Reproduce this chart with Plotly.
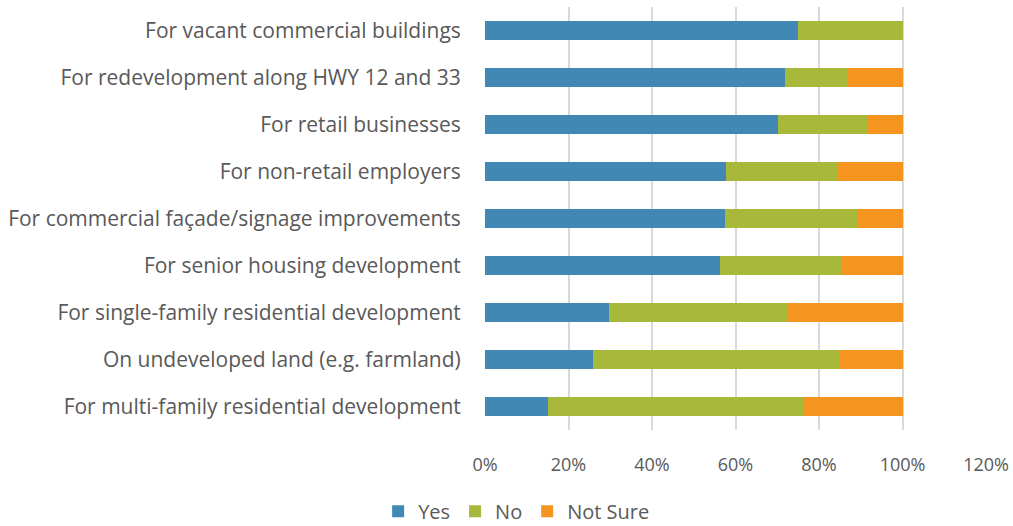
import plotly.graph_objects as go

categories = [
    "For vacant commercial buildings",
    "For redevelopment along HWY 12 and 33",
    "For retail businesses",
    "For non-retail employers",
    "For commercial façade/signage improvements",
    "For senior housing development",
    "For single-family residential development",
    "On undeveloped land (e.g. farmland)",
    "For multi-family residential development",
]
yes_vals = [0.75, 0.718, 0.701, 0.577, 0.574, 0.562, 0.298, 0.259, 0.151]
no_vals = [0.25, 0.152, 0.214, 0.268, 0.320, 0.292, 0.425, 0.589, 0.611]
notsure_vals = [0.0, 0.130, 0.085, 0.155, 0.106, 0.146, 0.277, 0.152, 0.238]
x_ticks = [0, 0.2, 0.4, 0.6, 0.8, 1.0, 1.2]
x_tick_labels = ["0%", "20%", "40%", "60%", "80%", "100%", "120%"]

colors = {"Yes": "#4189b4", "No": "#a7b83a", "Not Sure": "#f5941f"}

fig = go.Figure()
for name, vals in [("Yes", yes_vals), ("No", no_vals), ("Not Sure", notsure_vals)]:
    fig.add_trace(go.Bar(
        y=categories, x=vals, name=name, orientation="h",
        marker=dict(color=colors[name], line=dict(width=0)),
        hoverinfo="x+y+name",
    ))

fig.update_layout(
    barmode="stack",
    bargap=0.6,
    width=1013, height=526,
    margin=dict(l=485, r=27, t=7, b=96),
    paper_bgcolor="white", plot_bgcolor="white",
    font=dict(family="Open Sans, Segoe UI, sans-serif", size=18, color="#595959"),
    legend=dict(
        orientation="h", xref="container", yref="container",
        x=0.51, y=0.028, xanchor="center", yanchor="middle",
        font=dict(size=20, color="#595959"), traceorder="normal",
        itemwidth=30,
    ),
    xaxis=dict(
        range=[0, 1.2], tickvals=x_ticks, ticktext=x_tick_labels,
        showgrid=True, gridcolor="#d9d9d9", gridwidth=1.5,
        zeroline=False, showline=False, automargin=False,
        ticks="outside", ticklen=18, tickcolor="rgba(0,0,0,0)",
        tickfont=dict(size=18),
        fixedrange=True,
    ),
    yaxis=dict(
        autorange="reversed", showgrid=False, zeroline=False, showline=False,
        automargin=False,
        ticks="outside", ticklen=19, tickcolor="rgba(0,0,0,0)",
        tickfont=dict(size=21),
        fixedrange=True,
    ),
)

fig.write_html(
    "out.html",
    config={"displayModeBar": False},
    post_script="document.body.style.margin='0';document.body.style.overflow='hidden';",
)
